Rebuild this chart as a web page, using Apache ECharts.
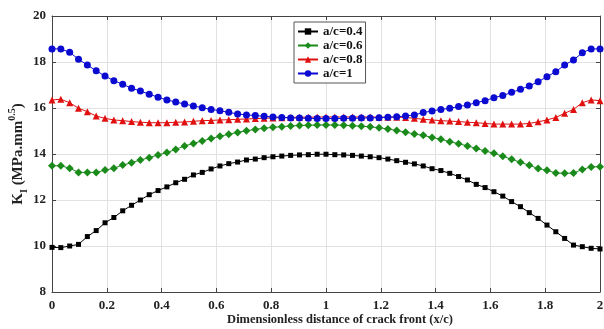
<!DOCTYPE html>
<html><head><meta charset="utf-8">
<script src="https://cdn.jsdelivr.net/npm/echarts@6/dist/echarts.min.js"></script>
<style>html,body{margin:0;padding:0;background:#fff}#c{width:604px;height:329px}</style>
</head><body><div id="c"></div>
<script>
const N = 63;
const xs = Array.from({length: N}, (_, i) => i * 2 / (N - 1));
const xTicks = ['0','0.2','0.4','0.6','0.8','1','1.2','1.4','1.6','1.8','2'];
const yTicks = ['8','10','12','14','16','18','20'];
const names = ['a/c=0.4','a/c=0.6','a/c=0.8','a/c=1'];
const ac04 = [9.94,9.93,10.00,10.07,10.41,10.67,11.01,11.24,11.53,11.77,12.00,12.23,12.41,12.57,12.75,12.90,13.09,13.20,13.35,13.48,13.58,13.65,13.74,13.78,13.84,13.88,13.91,13.94,13.96,13.97,13.99,13.99,13.97,13.96,13.94,13.91,13.88,13.84,13.78,13.71,13.64,13.57,13.48,13.36,13.28,13.16,13.02,12.87,12.68,12.54,12.36,12.17,11.93,11.71,11.45,11.20,10.91,10.62,10.33,10.04,9.97,9.90,9.87];
const ac06 = [13.49,13.49,13.38,13.20,13.20,13.20,13.30,13.38,13.52,13.62,13.74,13.84,13.96,14.06,14.20,14.35,14.46,14.57,14.67,14.77,14.86,14.94,15.01,15.07,15.12,15.16,15.19,15.22,15.24,15.25,15.26,15.26,15.26,15.25,15.23,15.21,15.18,15.14,15.09,15.02,14.95,14.87,14.81,14.72,14.64,14.53,14.45,14.35,14.24,14.13,14.03,13.90,13.77,13.64,13.51,13.37,13.29,13.17,13.16,13.17,13.33,13.44,13.45];
const ac08 = [16.35,16.38,16.23,15.99,15.84,15.65,15.55,15.48,15.45,15.41,15.38,15.36,15.36,15.36,15.38,15.39,15.42,15.45,15.46,15.48,15.49,15.51,15.52,15.54,15.55,15.57,15.58,15.59,15.60,15.60,15.61,15.61,15.61,15.61,15.61,15.61,15.61,15.60,15.60,15.60,15.59,15.55,15.51,15.48,15.45,15.43,15.41,15.38,15.36,15.33,15.30,15.30,15.30,15.30,15.33,15.40,15.48,15.59,15.77,15.94,16.23,16.35,16.32];
const ac10 = [18.57,18.57,18.42,18.12,17.87,17.62,17.39,17.19,17.03,16.86,16.74,16.60,16.47,16.35,16.26,16.17,16.09,16.01,15.94,15.88,15.81,15.74,15.70,15.67,15.64,15.61,15.59,15.57,15.56,15.55,15.54,15.54,15.54,15.55,15.55,15.56,15.57,15.58,15.60,15.62,15.65,15.70,15.80,15.87,15.94,15.99,16.06,16.13,16.23,16.32,16.45,16.54,16.68,16.81,16.96,17.14,17.36,17.58,17.87,18.09,18.40,18.57,18.57];

const FONT = '"Liberation Serif","Times New Roman",serif';
const colors = ['#000000','#1a8a1a','#e01010','#0a0ad0'];
const symbols = ['rect','diamond','triangle','circle'];
const sizes = [5,8,7,7];
const vals = [ac04, ac06, ac08, ac10];

const axisLbl = {fontFamily: FONT, fontWeight: 'bold', fontSize: 13, color: '#222'};
const chart = echarts.init(document.getElementById('c'), null, {renderer: 'canvas'});
chart.setOption({
  animation: false,
  backgroundColor: '#fff',
  grid: {left: 52, right: 4, top: 16, bottom: 37, containLabel: false, outerBoundsMode: 'none'},
  legend: {
    orient: 'vertical', left: 294, top: 22,
    data: names,
    backgroundColor: '#fff', borderColor: '#555', borderWidth: 1,
    padding: [3, 3, 3, 3], itemGap: 1, itemWidth: 20, itemHeight: 8,
    textStyle: {fontFamily: FONT, fontWeight: 'bold', fontSize: 13, color: '#111', lineHeight: 13}
  },
  xAxis: [{
    type: 'value', min: 0, max: 2, interval: 0.2,
    name: 'Dimensionless distance of crack front (x/c)', nameLocation: 'middle', nameGap: 21,
    nameMoveOverlap: false,
    nameTextStyle: {fontFamily: FONT, fontWeight: 'bold', fontSize: 12.5, color: '#222', padding: [0, 0, 0, 28]},
    axisLine: {show: true, onZero: false, lineStyle: {color: '#444', width: 1}},
    axisTick: {show: true, inside: true, length: 4, lineStyle: {color: '#444'}},
    axisLabel: Object.assign({margin: 7, formatter: v => xTicks[Math.round(v / 0.2)] || ''}, axisLbl),
    splitLine: {show: true, lineStyle: {color: '#e2e2e2', width: 1}}
  }, {
    type: 'value', min: 0, max: 2, interval: 0.2, position: 'top',
    axisLine: {show: true, onZero: false, lineStyle: {color: '#444', width: 1}},
    axisTick: {show: true, inside: true, length: 4, lineStyle: {color: '#444'}},
    axisLabel: {show: false}, splitLine: {show: false}
  }],
  yAxis: [{
    type: 'value', min: 8, max: 20, interval: 2,
    name: '{b|K}{sub|I}{b| (MPa.mm}{sup|0.5}{b|)}', nameLocation: 'middle', nameGap: 23,
    nameMoveOverlap: false,
    nameTextStyle: {
      fontFamily: FONT, fontWeight: 'bold', fontSize: 15, color: '#222',
      rich: {
        b: {fontFamily: FONT, fontWeight: 'bold', fontSize: 15, color: '#222', lineHeight: 22, verticalAlign: 'middle'},
        sub: {fontFamily: FONT, fontWeight: 'bold', fontSize: 10, color: '#222', lineHeight: 22, verticalAlign: 'bottom'},
        sup: {fontFamily: FONT, fontWeight: 'bold', fontSize: 10, color: '#222', lineHeight: 22, verticalAlign: 'top'}
      }
    },
    axisLine: {show: true, onZero: false, lineStyle: {color: '#444', width: 1}},
    axisTick: {show: true, inside: true, length: 4, lineStyle: {color: '#444'}},
    axisLabel: Object.assign({margin: 6, formatter: v => yTicks[Math.round((v - 8) / 2)] || ''}, axisLbl),
    splitLine: {show: true, lineStyle: {color: '#e2e2e2', width: 1}}
  }, {
    type: 'value', min: 8, max: 20, interval: 2, position: 'right',
    axisLine: {show: true, onZero: false, lineStyle: {color: '#444', width: 1}},
    axisTick: {show: true, inside: true, length: 4, lineStyle: {color: '#444'}},
    axisLabel: {show: false}, splitLine: {show: false}
  }],
  series: names.map((n, k) => ({
    name: n, type: 'line',
    data: xs.map((x, i) => [x, vals[k][i]]),
    symbol: symbols[k], symbolSize: sizes[k], showSymbol: true,
    lineStyle: {color: colors[k], width: 1},
    itemStyle: {color: colors[k]},
    z: 2 + k
  }))
});
</script></body></html>
